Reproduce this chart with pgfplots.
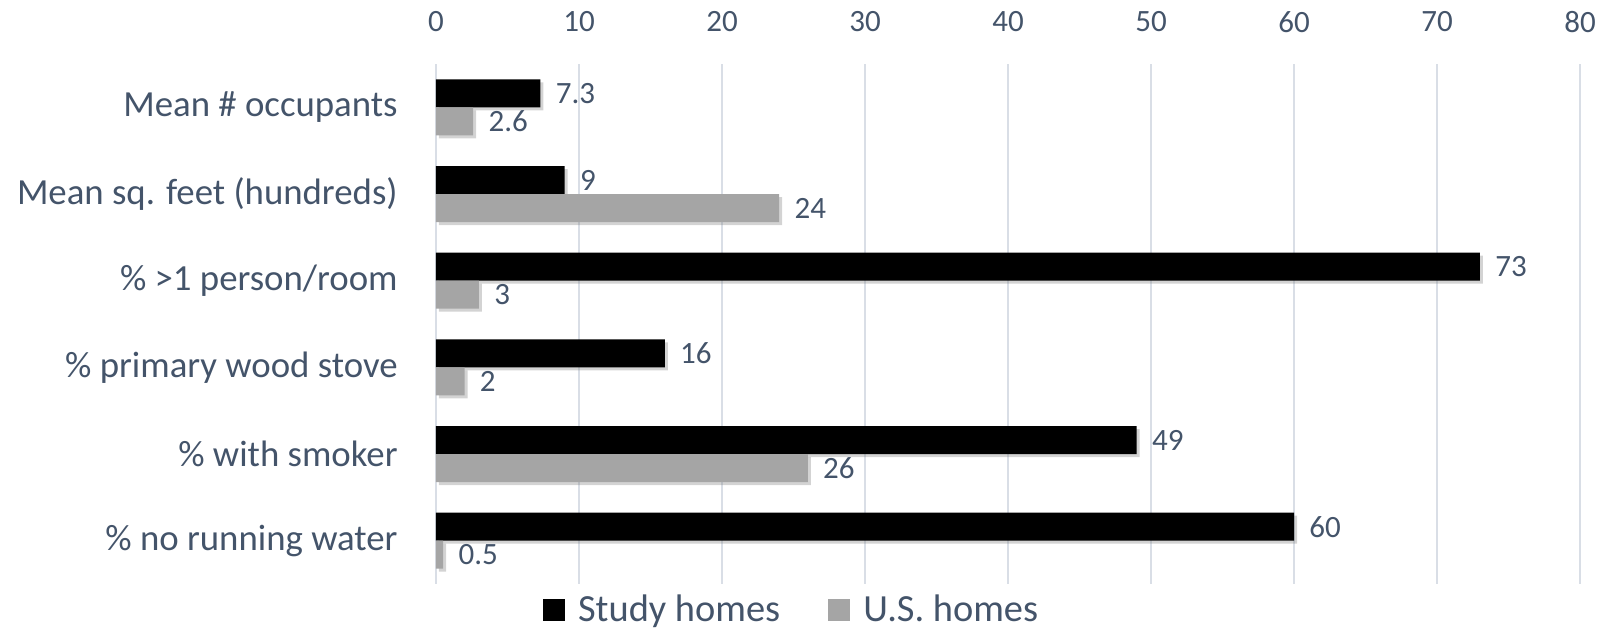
\documentclass[border=0pt]{standalone}
\usepackage{pgfplots}
\pgfplotsset{compat=1.18}
\usepackage{pgfplotstable}
\usepackage{fontspec}
\setmainfont{Carlito}
\usetikzlibrary{shadows}
\definecolor{txt}{HTML}{44546A}
\definecolor{gridc}{HTML}{D9DEE6}
\definecolor{usgray}{HTML}{A5A5A5}
\pgfplotstableread{
y study us
5 7.3 2.6
4 9 24
3 73 3
2 16 2
1 49 26
0 60 0.5
}\datatable
\begin{document}
\begin{tikzpicture}
\useasboundingbox (-218pt,-23.5pt) rectangle (582.5pt,292pt);
\begin{axis}[
  scale only axis,
  width=572pt, height=260pt,
  xmin=0, xmax=80,
  ymin=-0.5, ymax=5.5,
  xtick={0,10,...,80},
  ytick={0,1,2,3,4,5},
  yticklabels={\% no running water,\% with smoker,\% primary wood stove,\% >1 person/room,Mean sq. feet (hundreds),Mean \# occupants},
  xticklabel pos=upper,
  axis line style={draw=none},
  major tick length=0pt,
  tick style={draw=none},
  xmajorgrids,
  major grid style={gridc, line width=1pt},
  /pgf/number format/assume math mode=true,
  xticklabel style={font=\fontsize{15.5}{18}\selectfont, text=txt, anchor=center, inner sep=0pt, yshift=21pt},
  yticklabel style={font=\fontsize{18.4}{22}\selectfont, text=txt, anchor=east, inner sep=0pt, xshift=-19pt},
  xbar,
  bar width=14pt,
  nodes near coords,
  nodes near coords style={font=\fontsize{15.5}{18}\selectfont, text=txt, anchor=west, inner sep=0pt, xshift=7.5pt},
  legend image code/.code={\fill[#1] (0pt,-5.5pt) rectangle (11pt,5.5pt);},
  legend style={draw=none, fill=none, inner sep=0pt, at={(0.31,0)}, anchor=center, yshift=-13pt,
    font=\fontsize{19.2}{22}\selectfont, text=txt,
    /tikz/every even column/.append style={column sep=24pt},
    nodes={inner sep=0pt, text=txt}, cells={anchor=west}},
  legend columns=2,
]
\addlegendimage{fill=black, draw=none}
\addlegendentry{\hspace{6.5pt}Study homes}
\addlegendimage{fill=usgray, draw=none}
\addlegendentry{\hspace{6.5pt}U.S. homes}
\addplot[fill=black, draw=none, bar shift=7pt, forget plot,
  drop shadow={shadow xshift=1.5pt, shadow yshift=-1.5pt, opacity=0.35}] table[x=study, y=y] {\datatable};
\addplot[fill=usgray, draw=none, bar shift=-7pt, forget plot,
  drop shadow={shadow xshift=1.5pt, shadow yshift=-1.5pt, opacity=0.35}] table[x=us, y=y] {\datatable};
\end{axis}
\end{tikzpicture}
\end{document}
